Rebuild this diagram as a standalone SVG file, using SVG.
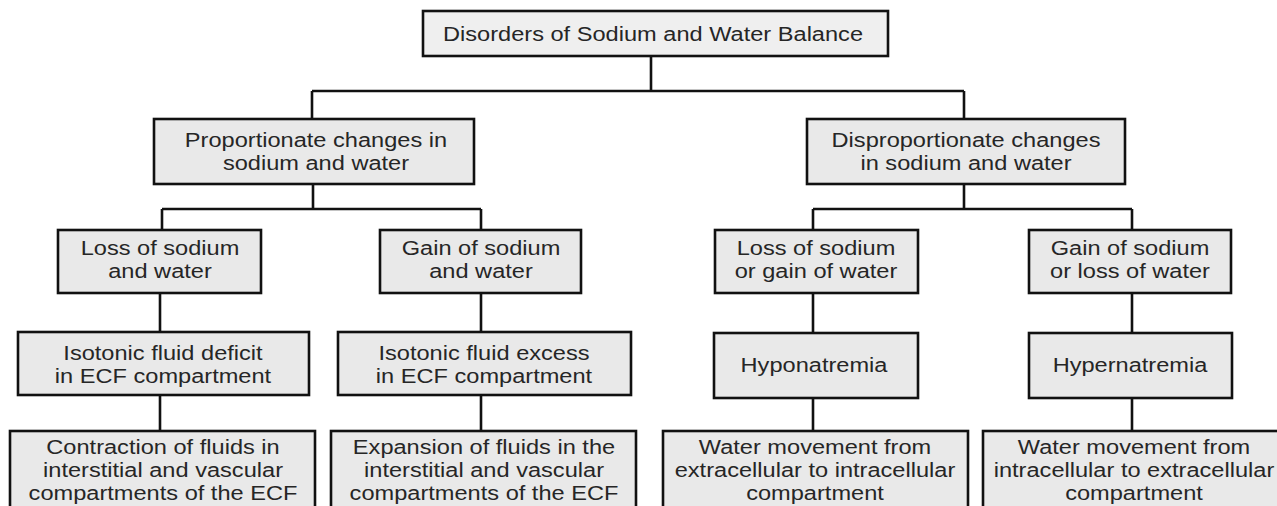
<svg xmlns="http://www.w3.org/2000/svg" width="1277" height="506" viewBox="0 0 1277 506">
<style>
.box{fill:#e9e9e9;stroke:#111;stroke-width:2.6}
.top{fill:#efefef}
.t{font-family:"Liberation Sans",Arial,sans-serif;font-size:21px;fill:#262626;text-anchor:middle}
.c{fill:none;stroke:#111;stroke-width:2.6}
</style>
<rect width="1277" height="506" fill="#ffffff"/>
<g id="connectors">
<path class="c" d="M651 56V91M312 91H964M312 91V119M964 91V119"/>
<path class="c" d="M313 184V209M162 209H481M162 209V230M481 209V230"/>
<path class="c" d="M964 184V209M813 209H1132M813 209V230M1132 209V230"/>
<path class="c" d="M160 293V332M160 395V431"/>
<path class="c" d="M481 293V332M481 395V431"/>
<path class="c" d="M813 293V333M813 398V431"/>
<path class="c" d="M1132 293V333M1132 398V431"/>
</g>
<g id="n-root">
<rect class="box top" x="423" y="11" width="465" height="45"/>
<text class="t" transform="translate(653 41) scale(1.124 1)">Disorders of Sodium and Water Balance</text>
</g>
<g id="n-prop">
<rect class="box" x="154" y="119" width="320" height="65"/>
<text class="t" transform="translate(316 147) scale(1.124 1)">Proportionate changes in</text>
<text class="t" transform="translate(316 169.5) scale(1.124 1)">sodium and water</text>
</g>
<g id="n-disprop">
<rect class="box" x="807" y="119" width="318" height="65"/>
<text class="t" transform="translate(966 147) scale(1.124 1)">Disproportionate changes</text>
<text class="t" transform="translate(966 169.5) scale(1.124 1)">in sodium and water</text>
</g>
<g id="n-loss">
<rect class="box" x="58" y="230" width="203" height="63"/>
<text class="t" transform="translate(160 255) scale(1.124 1)">Loss of sodium</text>
<text class="t" transform="translate(160 277.5) scale(1.124 1)">and water</text>
</g>
<g id="n-gain">
<rect class="box" x="380" y="230" width="201" height="63"/>
<text class="t" transform="translate(481 255) scale(1.124 1)">Gain of sodium</text>
<text class="t" transform="translate(481 277.5) scale(1.124 1)">and water</text>
</g>
<g id="n-loss-na">
<rect class="box" x="715" y="230" width="203" height="63"/>
<text class="t" transform="translate(816 255) scale(1.124 1)">Loss of sodium</text>
<text class="t" transform="translate(816 277.5) scale(1.124 1)">or gain of water</text>
</g>
<g id="n-gain-na">
<rect class="box" x="1029" y="230" width="202" height="63"/>
<text class="t" transform="translate(1130 255) scale(1.124 1)">Gain of sodium</text>
<text class="t" transform="translate(1130 277.5) scale(1.124 1)">or loss of water</text>
</g>
<g id="n-deficit">
<rect class="box" x="18" y="332" width="291" height="63"/>
<text class="t" transform="translate(163 360) scale(1.124 1)">Isotonic fluid deficit</text>
<text class="t" transform="translate(163 383) scale(1.124 1)">in ECF compartment</text>
</g>
<g id="n-excess">
<rect class="box" x="338" y="332" width="293" height="63"/>
<text class="t" transform="translate(484 360) scale(1.124 1)">Isotonic fluid excess</text>
<text class="t" transform="translate(484 383) scale(1.124 1)">in ECF compartment</text>
</g>
<g id="n-hypo">
<rect class="box" x="714" y="333" width="204" height="65"/>
<text class="t" transform="translate(814 372) scale(1.124 1)">Hyponatremia</text>
</g>
<g id="n-hyper">
<rect class="box" x="1029" y="333" width="203" height="65"/>
<text class="t" transform="translate(1130 372) scale(1.124 1)">Hypernatremia</text>
</g>
<g id="n-contraction">
<rect class="box" x="10" y="431" width="305" height="90"/>
<text class="t" transform="translate(163 454) scale(1.124 1)">Contraction of fluids in</text>
<text class="t" transform="translate(163 477) scale(1.124 1)">interstitial and vascular</text>
<text class="t" transform="translate(163 500) scale(1.124 1)">compartments of the ECF</text>
</g>
<g id="n-expansion">
<rect class="box" x="331" y="431" width="305" height="90"/>
<text class="t" transform="translate(484 454) scale(1.124 1)">Expansion of fluids in the</text>
<text class="t" transform="translate(484 477) scale(1.124 1)">interstitial and vascular</text>
<text class="t" transform="translate(484 500) scale(1.124 1)">compartments of the ECF</text>
</g>
<g id="n-water-in">
<rect class="box" x="663" y="431" width="305" height="90"/>
<text class="t" transform="translate(815 454) scale(1.124 1)">Water movement from</text>
<text class="t" transform="translate(815 477) scale(1.124 1)">extracellular to intracellular</text>
<text class="t" transform="translate(815 500) scale(1.124 1)">compartment</text>
</g>
<g id="n-water-out">
<rect class="box" x="983" y="431" width="305" height="90"/>
<text class="t" transform="translate(1134 454) scale(1.124 1)">Water movement from</text>
<text class="t" transform="translate(1134 477) scale(1.124 1)">intracellular to extracellular</text>
<text class="t" transform="translate(1134 500) scale(1.124 1)">compartment</text>
</g>
</svg>
